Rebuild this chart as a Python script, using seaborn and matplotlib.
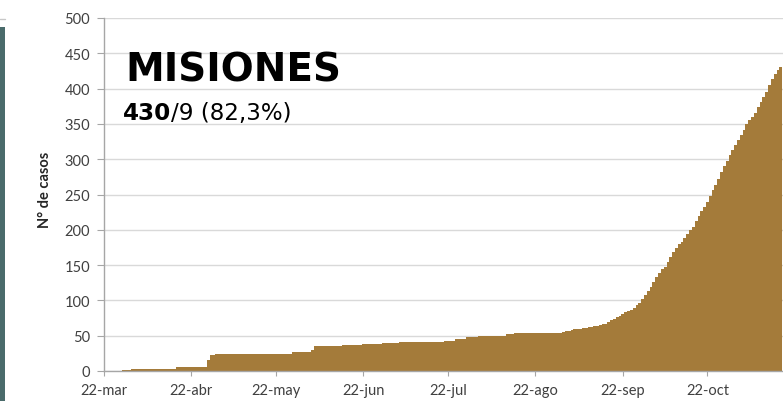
import matplotlib
matplotlib.use("Agg")
import matplotlib.pyplot as plt
import seaborn as sns
import pandas as pd
from matplotlib.patches import Rectangle
from matplotlib.lines import Line2D

# ---- data (cumulative cases per day, day 0 = 22-mar) ----
casos = [
    0, 0, 0, 0, 0, 0, 0,
    2, 2, 2,
    3, 3, 3, 3, 3, 3, 3, 3, 3, 3, 3, 3, 3, 3, 3, 3,
    5, 5, 5, 5, 5, 5, 5,
    6, 6, 6, 6,
    15, 22, 23,
    24, 24, 24, 24, 24, 24, 24, 24, 24, 24, 24, 24, 24, 24, 24, 24, 24, 24, 24, 24, 24, 24, 24, 24, 24, 24, 24,
    27, 27, 27, 27, 27, 27, 27,
    30,
    35, 35, 35, 35, 35, 35,
    36, 36, 36, 36,
    37, 37, 37, 37, 37, 37, 37,
    38, 38, 38, 38, 38, 38, 38,
    39, 39, 39, 39, 39, 39,
    41, 41, 41, 41, 41, 41, 41, 41, 41, 41, 41, 41, 41, 41, 41, 41,
    42, 42, 42, 42,
    46, 46, 46, 46,
    48, 48, 48, 48,
    50, 50, 50, 50, 50, 50, 50, 50, 50, 50,
    52, 52, 52,
    54, 54, 54, 54, 54, 54, 54, 54, 54, 54, 54, 54, 54, 54, 54,
    54, 54, 55, 56, 57, 58, 59, 60, 60, 61,
    61, 63, 63, 64, 64, 65, 66, 67, 70, 72,
    74, 76, 78, 81, 83, 85, 87, 89, 93, 97,
    102, 107, 113, 119, 126, 133, 139, 144, 148, 155,
    161, 168, 174, 180, 183, 188, 194, 200, 204, 212,
    220, 226, 233, 240, 248, 256, 264, 272, 282, 291,
    298, 306, 313, 320, 327, 334, 342, 350, 355, 360,
    366, 374, 381, 388, 395, 405, 413, 421, 426, 430,
]
fechas = pd.date_range("2020-03-22", periods=len(casos), freq="D")
dias = list((fechas - fechas[0]).days)

tick_fechas = ["2020-03-22", "2020-04-22", "2020-05-22", "2020-06-22",
               "2020-07-22", "2020-08-22", "2020-09-22", "2020-10-22"]
tick_labels = ["22-mar", "22-abr", "22-may", "22-jun",
               "22-jul", "22-ago", "22-sep", "22-oct"]
y_ticks = [0, 50, 100, 150, 200, 250, 300, 350, 400, 450, 500]

titulo = "MISIONES"
total_casos = "430"
resto = "/9 (82,3%)"
ylabel = "N° de casos"

BAR = "#A47B3A"
GRID = "#d9d9d9"
AXC = "#a6a6a6"
TXT = "#404040"

sns.set_theme(style="white")
plt.rcParams['font.family'] = ['Lato', 'DejaVu Sans']

W, H = 783, 402
fig = plt.figure(figsize=(W / 100, H / 100), dpi=100)
ax = fig.add_axes([104 / W, 30 / H, 1 - 104 / W, 353 / H])

df = pd.DataFrame({"dia": dias, "casos": casos})
sns.barplot(data=df, x="dia", y="casos", native_scale=True, width=1.0,
            color=BAR, saturation=1, linewidth=0, ax=ax)
for p in ax.patches:
    p.set_antialiased(False)

ax.set_xlim(0, 240.8)
ax.set_ylim(0, 500)
ax.set_yticks(y_ticks)
t0 = pd.Timestamp(tick_fechas[0])
ax.set_xticks([(pd.Timestamp(t) - t0).days for t in tick_fechas])
ax.set_xticklabels(tick_labels)
ax.set_xlabel("")
ax.set_ylabel("")

ax.yaxis.grid(True, color=GRID, lw=1.0)
ax.xaxis.grid(False)
ax.set_axisbelow(True)
for s in ["top", "right"]:
    ax.spines[s].set_visible(False)
for s in ["left", "bottom"]:
    ax.spines[s].set_color(AXC)
    ax.spines[s].set_linewidth(1.0)

ax.tick_params(axis="y", length=5, width=0.8, color=AXC, direction="out",
               labelsize=10.5, labelcolor=TXT, pad=5, left=True)
ax.tick_params(axis="x", length=3.6, width=0.8, color=AXC, direction="out",
               labelsize=10.5, labelcolor=TXT, pad=5, bottom=True)

fig.text(45 / W, 1 - 190 / H, ylabel, rotation=90, ha="center", va="center",
         fontsize=10.5, fontweight="bold", color="#262626")

fig.text(125 / W, 1 - 82 / H, titulo, ha="left", va="baseline",
         fontsize=28, fontweight="bold", color="black",
         family=["DejaVu Sans"])
t1 = fig.text(123 / W, 1 - 120 / H, total_casos, ha="left", va="baseline",
              fontsize=16.6, fontweight="bold", color="black",
              family=["DejaVu Sans"])
fig.canvas.draw()
bb = t1.get_window_extent(renderer=fig.canvas.get_renderer())
fig.text(bb.x1 / W, 1 - 120 / H, resto, ha="left", va="baseline",
         fontsize=16.6, color="black", family=["DejaVu Sans"])

# decorative slide elements at the left edge
fig.patches.append(Rectangle((0, 0), 5 / W, (H - 28) / H, transform=fig.transFigure,
                             facecolor="#4a6b6b", edgecolor="none"))
fig.lines.append(Line2D([0, 5 / W], [1 - 20 / H, 1 - 20 / H], transform=fig.transFigure,
                        color="#c8c8c8", lw=1))

fig.savefig("out.png", dpi=100)
